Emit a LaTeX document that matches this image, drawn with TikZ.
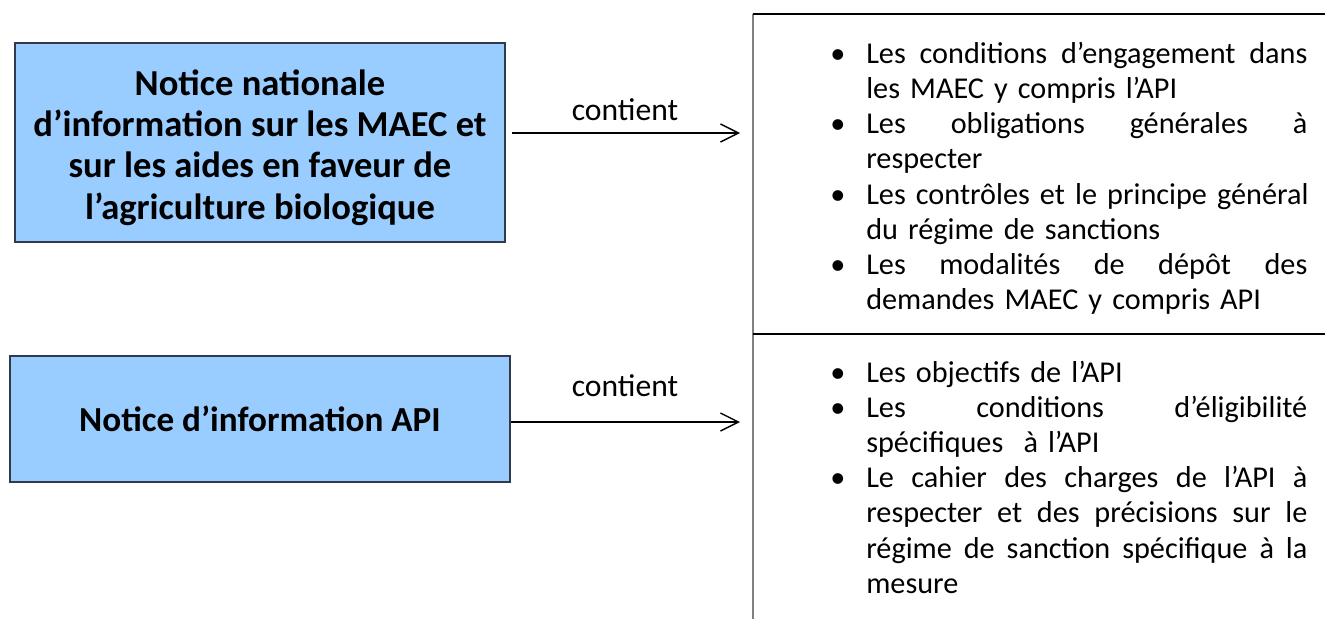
\documentclass[tikz,border=0pt]{standalone}
\usepackage{fontspec}
\setmainfont{Carlito}
\usetikzlibrary{arrows.meta}

\definecolor{boxblue}{HTML}{99CCFF}
\definecolor{boxline}{HTML}{2F3B4C}
\newcommand{\fullline}[1]{\leavevmode\hbox to 11.025cm{#1}}

\begin{document}
\begin{tikzpicture}[x=0.025cm, y=-0.025cm,
    notice/.style={draw=boxline, line width=1.4pt, fill=boxblue, align=center},
    conn/.style={line width=1pt, -{Straight Barb[length=0.45cm, width=0.45cm, line width=1pt]}},
    lbl/.style={inner sep=0pt, font=\fontsize{22.5}{26}\selectfont},
    item/.style={inner sep=0pt, anchor=base west, text width=11.025cm, align=left,
        font=\fontsize{21.5}{25}\selectfont},
    bul/.style={inner sep=0pt, anchor=base, font=\fontsize{21.5}{25}\selectfont}]
    \useasboundingbox (0,0) rectangle (1325,619);

    % left boxes
    \node [notice, minimum width=12.25cm, minimum height=4.975cm,
        font=\bfseries\fontsize{26}{29.3}\selectfont] (nat) at (260,142.5)
        {\rule{0pt}{25.5pt}Notice nationale\\ d'information sur les MAEC et\\ sur les aides en faveur de\\ l'agriculture biologique};
    \node [notice, minimum width=12.5cm, minimum height=3.15cm,
        font=\bfseries\fontsize{25}{29.3}\selectfont] (api) at (260,419)
        {Notice d'information API};

    % panel on the right
    \coordinate (P) at (753,14);
    \coordinate (Q) at (753,619);
    \coordinate (M) at (753,334);
    \draw [black!50, line width=1.4pt] (P) -- (Q);
    \draw [black, line width=1.1pt] (P) -- (1330,14);
    \draw [black, line width=1.1pt] (M) -- (1330,334);

    % arrows
    \coordinate (e1) at (740,133);
    \coordinate (e2) at (740,422);
    \draw [conn, shorten <=0.15cm] (nat.east |- e1) -- (e1);
    \draw [conn] (api.east |- e2) -- (e2);
    \node [lbl] (c1) at (625,110) {contient};
    \node [lbl] (c2) at (625,386) {contient};

    % first list
    \node [bul] (b1) at (838,63) {\textbullet};
    \node [item] (t1) at (866,63) {\fullline{Les \hfill conditions \hfill d'engagement \hfill dans}\\ les MAEC y compris l'API};
    \node [bul] (b2) at (838,133.5) {\textbullet};
    \node [item] (t2) at (866,133.5) {\fullline{Les \hfill obligations \hfill générales \hfill à}\\ respecter};
    \node [bul] (b3) at (838,204) {\textbullet};
    \node [item] (t3) at (866,204) {\fullline{Les \hfill contrôles \hfill et \hfill le \hfill principe \hfill général}\\ du régime de sanctions};
    \node [bul] (b4) at (838,274.5) {\textbullet};
    \node [item] (t4) at (866,274.5) {\fullline{Les \hfill modalités \hfill de \hfill dépôt \hfill des}\\ demandes MAEC y compris API};

    % second list
    \node [bul] (b5) at (838,382) {\textbullet};
    \node [item] (t5) at (866,382) {Les objectifs de l'API};
    \node [bul] (b6) at (838,417.3) {\textbullet};
    \node [item] (t6) at (866,417.3) {\fullline{Les \hfill conditions \hfill d'éligibilité}\\ spécifiques\ \ à l'API};
    \node [bul] (b7) at (838,487.8) {\textbullet};
    \node [item] (t7) at (866,487.8) {\fullline{Le \hfill cahier \hfill des \hfill charges \hfill de \hfill l'API \hfill à}\\
        \fullline{respecter \hfill et \hfill des \hfill précisions \hfill sur \hfill le}\\
        \fullline{régime \hfill de \hfill sanction \hfill spécifique \hfill à \hfill la}\\ mesure};
\end{tikzpicture}
\end{document}
